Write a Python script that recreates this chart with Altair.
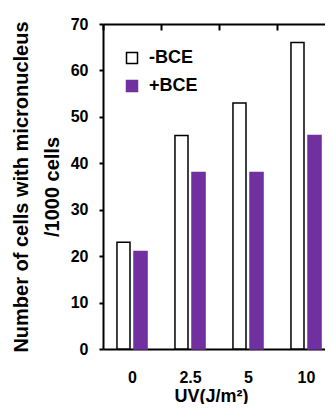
import altair as alt
import pandas as pd

categories = ["0", "2.5", "5", "10"]
groups = ["-BCE", "+BCE"]
minus_bce = [23, 46, 53, 66]
plus_bce = [21, 38, 38, 46]
y_ticks = [0, 10, 20, 30, 40, 50, 60, 70]
colors = ["white", "#7030A0"]
strokes = ["black", "#7030A0"]

rows = []
for c, m, p in zip(categories, minus_bce, plus_bce):
    rows.append({"uv": c, "group": groups[0], "value": m})
    rows.append({"uv": c, "group": groups[1], "value": p})
df = pd.DataFrame(rows)

FONT = "Liberation Sans"

x_scale = alt.Scale(domain=categories, range=[0, 232], paddingInner=0, paddingOuter=0)
y_scale = alt.Scale(domain=[0, 70])

leg = alt.Legend(
    title=None, orient="none", legendX=20, legendY=25,
    symbolType="square", symbolSize=121, symbolStrokeWidth=1.5,
    labelFont=FONT, labelFontSize=18, labelFontWeight="bold", labelColor="black",
    labelOffset=8, rowPadding=10, padding=0,
)

chart = alt.Chart(df).mark_bar(strokeWidth=1.5).encode(
    x=alt.X("uv:N", scale=x_scale,
            axis=alt.Axis(title="UV(J/m²)", labelAngle=0, ticks=False, orient="bottom",
                          tickBand="extent", grid=True, gridColor="black", gridWidth=2,
                          gridDash=[6, 2000],
                          domainColor="black", domainWidth=2,
                          labelFont=FONT, labelFontSize=16, labelFontWeight="bold",
                          labelColor="black", labelPadding=20,
                          titleFont=FONT, titleFontSize=18, titleFontWeight="bold",
                          titleColor="black", titlePadding=2, titleX=108)),
    xOffset=alt.XOffset("group:N",
                        scale=alt.Scale(domain=groups, paddingInner=0.235, paddingOuter=0.82)),
    y=alt.Y("value:Q", scale=y_scale,
            axis=alt.Axis(values=y_ticks, grid=True,
                          gridColor=alt.condition("datum.value === 70", alt.value("black"), alt.value("transparent")),
                          gridWidth=2,
                          title=["Number of cells with micronucleus", "/1000 cells"],
                          domainColor="black", domainWidth=2, tickColor="black", tickWidth=2, tickSize=4,
                          labelFont=FONT, labelFontSize=16, labelFontWeight="bold", labelColor="black",
                          labelPadding=11,
                          titleFont=FONT, titleFontSize=20, titleFontWeight="bold", titleColor="black",
                          titleLineHeight=31, titlePadding=8)),
    fill=alt.Fill("group:N", scale=alt.Scale(domain=groups, range=colors), legend=leg),
    stroke=alt.Stroke("group:N", scale=alt.Scale(domain=groups, range=strokes), legend=leg),
).properties(
    width=222, height=325,
    autosize=alt.AutoSizeParams(type="none"),
    padding={"left": 95, "top": 16, "right": 0, "bottom": 55},
).configure_view(strokeWidth=0)

chart.save("out.html", embed_options={"renderer": "svg", "actions": False})
